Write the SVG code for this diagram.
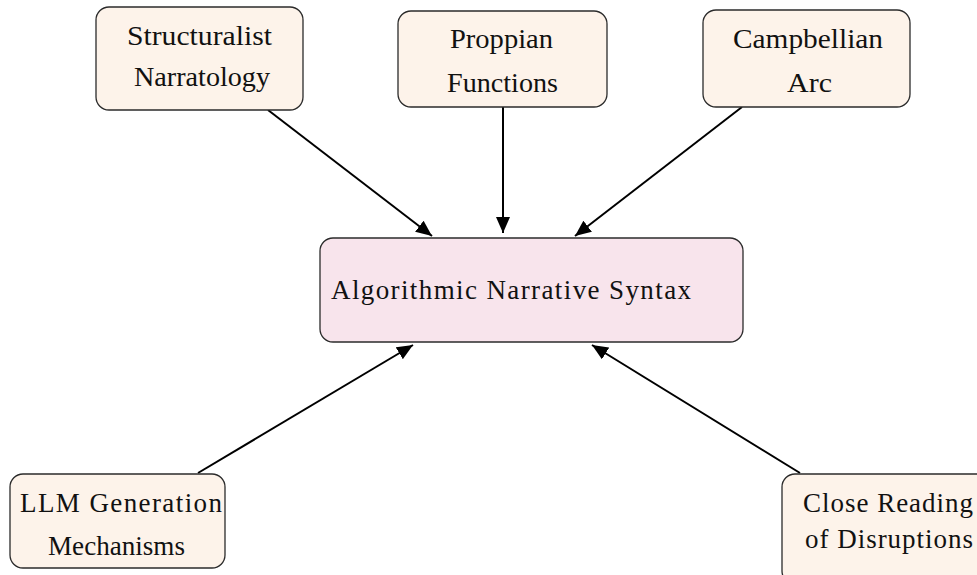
<svg xmlns="http://www.w3.org/2000/svg" width="977" height="575" viewBox="0 0 977 575">
<style>
.n rect{fill:#fdf3ea;stroke:#2b2b2b;stroke-width:1.3}
#center rect{fill:#f8e4ec}
text{font-family:"Liberation Serif","Times New Roman",serif;font-size:27px;fill:#111}
.c{stroke:#000;stroke-width:2;fill:none;marker-end:url(#ah)}
</style>
<defs>
<marker id="ah" markerUnits="userSpaceOnUse" markerWidth="18" markerHeight="14" refX="16" refY="7" orient="auto">
<path d="M0,0 L16,7 L0,14 z" fill="#000"/>
</marker>
</defs>
<rect width="977" height="575" fill="#fff"/>
<g id="connectors">
<line class="c" x1="268" y1="110" x2="432" y2="236"/>
<line class="c" x1="503" y1="107" x2="503" y2="233"/>
<line class="c" x1="742" y1="107" x2="575" y2="236"/>
<line class="c" x1="198" y1="473" x2="413" y2="345"/>
<line class="c" x1="800" y1="473" x2="592" y2="345"/>
</g>
<g id="structuralist" class="n">
<rect x="96" y="7" width="207" height="103" rx="13"/>
<text x="127" y="45" textLength="145" lengthAdjust="spacingAndGlyphs">Structuralist</text>
<text x="134" y="86" textLength="136" lengthAdjust="spacingAndGlyphs">Narratology</text>
</g>
<g id="proppian" class="n">
<rect x="398" y="11" width="209" height="96" rx="13"/>
<text x="450" y="48" textLength="103" lengthAdjust="spacingAndGlyphs">Proppian</text>
<text x="447" y="92" textLength="111" lengthAdjust="spacingAndGlyphs">Functions</text>
</g>
<g id="campbellian" class="n">
<rect x="703" y="10" width="207" height="97" rx="13"/>
<text x="733" y="48" textLength="150" lengthAdjust="spacingAndGlyphs">Campbellian</text>
<text x="787" y="92" textLength="45" lengthAdjust="spacingAndGlyphs">Arc</text>
</g>
<g id="center" class="n">
<rect x="320" y="238" width="423" height="104" rx="13"/>
<text x="331" y="299" textLength="360" lengthAdjust="spacing">Algorithmic Narrative Syntax</text>
</g>
<g id="llm" class="n">
<rect x="10" y="474" width="215" height="94" rx="13"/>
<text x="20" y="512" textLength="202" lengthAdjust="spacing">LLM Generation</text>
<text x="48" y="555" textLength="137" lengthAdjust="spacingAndGlyphs">Mechanisms</text>
</g>
<g id="close" class="n">
<rect x="782" y="474" width="215" height="110" rx="13"/>
<text x="803" y="512" textLength="170" lengthAdjust="spacing">Close Reading</text>
<text x="805" y="548" textLength="168" lengthAdjust="spacing">of Disruptions</text>
</g>
</svg>
